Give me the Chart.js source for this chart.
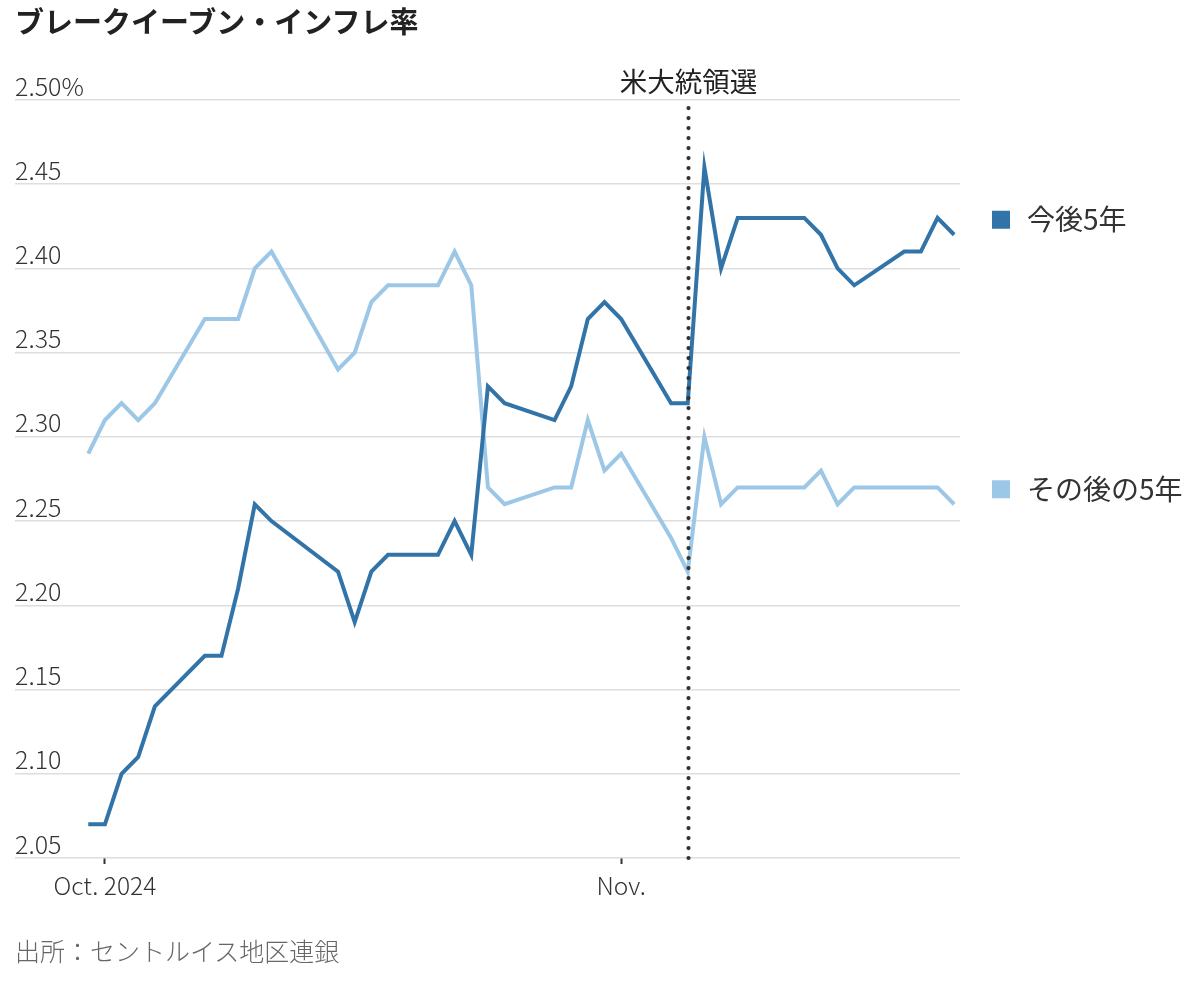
<!DOCTYPE html>
<html lang="ja">
<head>
<meta charset="utf-8">
<title>ブレークイーブン・インフレ率</title>
<script src="https://cdn.jsdelivr.net/npm/chart.js@4/dist/chart.umd.min.js"></script>
<style>
  html, body { margin: 0; padding: 0; background: #fff; }
  body { width: 1200px; height: 995px; position: relative; overflow: hidden;
         font-family: "Noto Sans CJK JP", "Noto Sans", sans-serif; }
  #title { position: absolute; left: 15px; top: 0; line-height: 40px;
           font-size: 29px; font-weight: bold; color: #222; }
  #src { position: absolute; left: 15px; top: 930px; line-height: 40px;
         font-size: 25px; color: #666; font-weight: 300; }
  #wrap { position: absolute; left: 0; top: 0; width: 1200px; height: 995px; }
</style>
</head>
<body>
<div id="wrap"><canvas id="c"></canvas></div>
<div id="title">ブレークイーブン・インフレ率</div>
<div id="src">出所：セントルイス地区連銀</div>
<script>
// Trading days shown (Columbus Day and Veterans Day have no quote)
const dates = [
  '2024-09-30','2024-10-01','2024-10-02','2024-10-03','2024-10-04',
  '2024-10-07','2024-10-08','2024-10-09','2024-10-10','2024-10-11',
  '2024-10-15','2024-10-16','2024-10-17','2024-10-18',
  '2024-10-21','2024-10-22','2024-10-23','2024-10-24','2024-10-25',
  '2024-10-28','2024-10-29','2024-10-30','2024-10-31','2024-11-01',
  '2024-11-04','2024-11-05','2024-11-06','2024-11-07','2024-11-08',
  '2024-11-12','2024-11-13','2024-11-14','2024-11-15',
  '2024-11-18','2024-11-19','2024-11-20','2024-11-21'
];

// 今後5年 (5-year breakeven), percent
const next5 = [
  2.07, 2.07, 2.10, 2.11, 2.14,
  2.17, 2.17, 2.21, 2.26, 2.25,
  2.22, 2.19, 2.22, 2.23,
  2.23, 2.25, 2.23, 2.33, 2.32,
  2.31, 2.33, 2.37, 2.38, 2.37,
  2.32, 2.32, 2.46, 2.40, 2.43,
  2.43, 2.42, 2.40, 2.39,
  2.41, 2.41, 2.43, 2.42
];

// その後の5年 (5-year, 5-year forward), percent
const after5 = [
  2.29, 2.31, 2.32, 2.31, 2.32,
  2.37, 2.37, 2.37, 2.40, 2.41,
  2.34, 2.35, 2.38, 2.39,
  2.39, 2.41, 2.39, 2.27, 2.26,
  2.27, 2.27, 2.31, 2.28, 2.29,
  2.24, 2.22, 2.30, 2.26, 2.27,
  2.27, 2.28, 2.26, 2.27,
  2.27, 2.27, 2.27, 2.26
];

const seriesNames = ['今後5年', 'その後の5年'];
const xTickDates = ['2024-10-01', '2024-11-01'];
const xTickLabels = ['Oct. 2024', 'Nov.'];
const yTicks = [2.05, 2.10, 2.15, 2.20, 2.25, 2.30, 2.35, 2.40, 2.45, 2.50];
const electionDate = '2024-11-05';
const electionLabel = '米大統領選';

const DARK = '#3274a8';
const LIGHT = '#9cc7e7';
const FONT = '"Noto Sans CJK JP", "Noto Sans", sans-serif';

// day number relative to Oct 1
const base = Date.UTC(2024, 9, 1);
function dayNo(s) {
  const p = s.split('-').map(Number);
  return (Date.UTC(p[0], p[1] - 1, p[2]) - base) / 86400000;
}
function pts(vals) {
  return vals.map((v, i) => ({ x: dayNo(dates[i]), y: v }));
}

// dotted election marker + its label
const electionPlugin = {
  id: 'election',
  afterDatasetsDraw(chart) {
    const { ctx, chartArea, scales } = chart;
    const x = Math.round(scales.x.getPixelForValue(dayNo(electionDate))) + 0.5;
    ctx.save();
    ctx.strokeStyle = '#333';
    ctx.lineWidth = 4.2;
    ctx.lineCap = 'round';
    ctx.setLineDash([0.1, 9.9]);
    ctx.beginPath();
    ctx.moveTo(x, chartArea.top + 8);
    ctx.lineTo(x, chartArea.bottom);
    ctx.stroke();
    ctx.setLineDash([]);
    ctx.fillStyle = '#222';
    ctx.font = '27.5px ' + FONT;
    ctx.textAlign = 'center';
    ctx.textBaseline = 'middle';
    ctx.fillText(electionLabel, x, chartArea.top - 18);
    ctx.restore();
  }
};

// legend beside the end of each line
const sideLegend = {
  id: 'sideLegend',
  afterDraw(chart) {
    const { ctx, scales } = chart;
    ctx.save();
    ctx.font = '28px ' + FONT;
    ctx.textBaseline = 'middle';
    ctx.textAlign = 'left';
    chart.data.datasets.forEach(ds => {
      const last = ds.data[ds.data.length - 1];
      const y = scales.y.getPixelForValue(last.y) - 15;
      ctx.fillStyle = ds.borderColor;
      ctx.fillRect(992, y - 9, 18, 18);
      ctx.fillStyle = '#333';
      ctx.fillText(ds.label, 1027, y);
    });
    ctx.restore();
  }
};

new Chart(document.getElementById('c'), {
  type: 'line',
  data: {
    datasets: [
      { label: seriesNames[0], data: pts(next5), borderColor: DARK,
        borderWidth: 4, pointRadius: 0, tension: 0, order: 1 },
      { label: seriesNames[1], data: pts(after5), borderColor: LIGHT,
        borderWidth: 4, pointRadius: 0, tension: 0, order: 2 }
    ]
  },
  options: {
    responsive: true,
    maintainAspectRatio: false,
    animation: false,
    layout: { autoPadding: false, padding: { left: 15, right: 240, top: 100, bottom: 97 } },
    plugins: { legend: { display: false }, tooltip: { enabled: false } },
    scales: {
      x: {
        type: 'linear',
        min: -5.4,
        max: 51.35,
        afterFit(s) { s.height = 40; },
        afterBuildTicks(s) { s.ticks = xTickDates.map(d => ({ value: dayNo(d) })); },
        ticks: {
          autoSkip: false, maxRotation: 0, padding: 7,
          color: '#333', font: { family: FONT, size: 24.5, weight: 300 },
          callback(v, i) { return xTickLabels[i]; }
        },
        grid: { drawOnChartArea: false, drawTicks: true, tickLength: 6,
                tickColor: '#333', tickWidth: 2 },
        border: { display: false }
      },
      y: {
        min: 2.05,
        max: 2.50,
        afterFit(s) { s.width = 0; },
        afterBuildTicks(s) { s.ticks = yTicks.map(v => ({ value: v })); },
        ticks: {
          mirror: true, padding: 0, labelOffset: -14,
          color: '#333', font: { family: FONT, size: 25, weight: 300 },
          callback(v) { return v === 2.5 ? '2.50%' : v.toFixed(2); }
        },
        grid: { color: '#dedede', lineWidth: 1.5, drawTicks: false },
        border: { display: false }
      }
    }
  },
  plugins: [electionPlugin, sideLegend]
});
</script>
</body>
</html>
